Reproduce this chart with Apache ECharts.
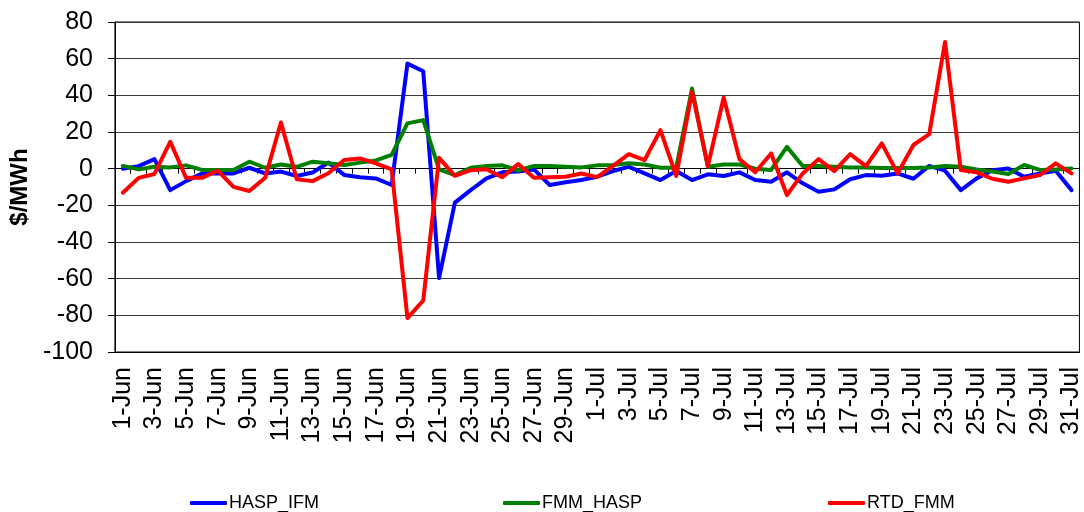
<!DOCTYPE html>
<html>
<head>
<meta charset="utf-8">
<script src="https://cdn.jsdelivr.net/npm/echarts@6/dist/echarts.min.js"></script>
<style>
html,body{margin:0;padding:0;background:#fff;}
#chart{width:1084px;height:512px;}
</style>
</head>
<body>
<div id="chart"></div>
<script>
// Categories: 1-Jun .. 31-Jul
const junDays = [1,2,3,4,5,6,7,8,9,10,11,12,13,14,15,16,17,18,19,20,21,22,23,24,25,26,27,28,29,30];
const julDays = [1,2,3,4,5,6,7,8,9,10,11,12,13,14,15,16,17,18,19,20,21,22,23,24,25,26,27,28,29,30,31];
const categories = junDays.map(d => d + '-Jun').concat(julDays.map(d => d + '-Jul'));

const yTicks = { min: -100, max: 80, interval: 20 };

const haspIfm = [0, 1.4, 5.2, -11.7, -6.8, -2.6, -2.6, -2.6, 0.5, -2.6,
  -1.6, -4.0, -2.1, 3.3, -3.4, -4.7, -5.3, -8.9, 57.3, 53.1,
  -59.7, -18.5, -11.7, -5.3, -2.0, -1.6, -0.4, -8.9, -7.4, -6.2,
  -4.4, -1.3, 1.0, -2.6, -6.2, -1.3, -6.2, -3.1, -4.0, -2.0,
  -6.2, -7.1, -2.0, -8.0, -12.6, -11.3, -5.8, -3.5, -3.9, -2.6,
  -5.5, 1.5, -1.1, -11.7, -5.3, -0.8, 0.1, -4.4, -2.6, -1.1,
  -11.7];

const fmmHasp = [1.5, -0.4, 1.0, 0.7, 1.8, -0.7, -0.7, -0.7, 3.8, 0.5,
  2.3, 1.0, 3.8, 2.9, 2.0, 3.3, 4.5, 7.5, 24.7, 26.5,
  -0.4, -3.5, 0.5, 1.4, 1.8, -1.0, 1.5, 1.4, 1.0, 0.7,
  1.8, 2.0, 2.9, 2.3, 0.5, 0.5, 43.7, 1.0, 2.3, 2.3,
  0.0, -0.7, 11.9, 1.5, 1.4, 1.0, 0.7, 0.7, 0.3, 0.3,
  0.3, 0.7, 1.4, 1.0, -0.4, -1.6, -2.9, 2.0, -0.7, -0.4,
  0.1];

const rtdFmm = [-13.1, -5.0, -2.9, 14.7, -5.0, -5.0, -1.1, -9.9, -12.2, -5.0,
  25.2, -5.8, -6.8, -2.5, 4.7, 5.6, 2.9, -0.4, -81.5, -71.9,
  5.9, -3.9, -0.8, -0.3, -4.6, 2.5, -5.0, -4.7, -4.4, -2.6,
  -4.6, 1.5, 7.9, 4.7, 21.0, -4.0, 41.9, 1.4, 38.8, 5.2,
  -2.0, 8.3, -14.4, -2.6, 5.2, -1.3, 7.9, 1.4, 13.8, -2.6,
  12.9, 18.8, 69.1, -0.8, -2.0, -5.5, -7.1, -5.3, -3.5, 2.9,
  -2.6];

const FONT = '"Liberation Sans", Arial, sans-serif';

const chart = echarts.init(document.getElementById('chart'), null, { renderer: 'canvas' });

function legendFor(name, left) {
  return {
    data: [name],
    left: left,
    top: 494,
    orient: 'horizontal',
    icon: 'roundRect',
    itemWidth: 37,
    itemHeight: 4,
    textStyle: { fontFamily: FONT, fontSize: 18, color: '#000', padding: [0, 0, 0, -3] },
    padding: 0,
    selectedMode: false
  };
}

const option = {
  backgroundColor: '#fff',
  animation: false,
  textStyle: { fontFamily: FONT },
  legend: [
    legendFor('HASP_IFM', 190),
    legendFor('FMM_HASP', 503),
    legendFor('RTD_FMM', 828)
  ],
  grid: {
    left: 113,
    right: 4,
    top: 22,
    bottom: 160,
    show: true,
    borderColor: '#000',
    borderWidth: 1,
    backgroundColor: 'transparent'
  },
  xAxis: [
    {
      type: 'category',
      data: categories,
      boundaryGap: true,
      axisLine: { show: true, onZero: true, lineStyle: { color: '#000', width: 1 } },
      axisTick: { show: true, interval: 0, alignWithLabel: false, length: 5, inside: false, lineStyle: { color: '#000' } },
      axisLabel: { show: false },
      splitLine: { show: false }
    },
    {
      type: 'category',
      data: categories,
      position: 'bottom',
      boundaryGap: true,
      axisLine: { show: true, onZero: false, lineStyle: { color: '#000', width: 1 } },
      axisTick: { show: false },
      axisLabel: {
        show: true,
        interval: 1,
        rotate: 90,
        margin: 15,
        fontFamily: FONT,
        fontSize: 25,
        color: '#000'
      },
      splitLine: { show: false }
    }
  ],
  yAxis: {
    type: 'value',
    min: yTicks.min,
    max: yTicks.max,
    interval: yTicks.interval,
    name: '$/MWh',
    nameLocation: 'middle',
    nameRotate: 90,
    nameGap: 82,
    nameTextStyle: { fontFamily: FONT, fontSize: 24, fontWeight: 'bold', color: '#000' },
    axisLine: { show: true, lineStyle: { color: '#000', width: 1 } },
    axisTick: { show: true, length: 7, lineStyle: { color: '#000' } },
    axisLabel: { fontFamily: FONT, fontSize: 25, color: '#000', margin: 22 },
    splitLine: { show: true, lineStyle: { color: '#3a3a3a', width: 1 } }
  },
  series: [
    {
      name: 'HASP_IFM', type: 'line', data: haspIfm, xAxisIndex: 0,
      showSymbol: false, symbol: 'none',
      lineStyle: { color: '#0000ff', width: 4, cap: 'round', join: 'round' },
      itemStyle: { color: '#0000ff' }
    },
    {
      name: 'FMM_HASP', type: 'line', data: fmmHasp, xAxisIndex: 0,
      showSymbol: false, symbol: 'none',
      lineStyle: { color: '#008000', width: 4, cap: 'round', join: 'round' },
      itemStyle: { color: '#008000' }
    },
    {
      name: 'RTD_FMM', type: 'line', data: rtdFmm, xAxisIndex: 0,
      showSymbol: false, symbol: 'none',
      lineStyle: { color: '#ff0000', width: 4, cap: 'round', join: 'round' },
      itemStyle: { color: '#ff0000' }
    }
  ]
};

chart.setOption(option);
</script>
</body>
</html>
